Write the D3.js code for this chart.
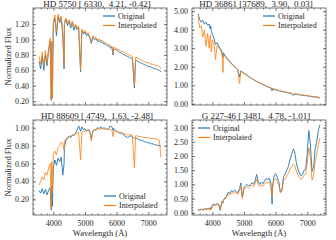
<!DOCTYPE html>
<html>
<head>
<meta charset="utf-8">
<script src="https://cdn.jsdelivr.net/npm/d3@7"></script>
<style>
  body { margin: 0; background: #fff; }
  svg text { font-family: "Liberation Serif", "Times New Roman", serif; fill: #262626; }
</style>
</head>
<body>
<div id="chart"></div>
<script>
// wavelength grid (Angstrom), shared by all four spectra
const wavelength = [3550,3600,3650,3700,3750,3800,3850,3900,3934,3950,3969,
  4000,4050,4100,4150,4200,4250,4300,4340,4350,4400,4450,4500,4550,4600,4650,4700,4750,4800,4861,
  4900,4950,5000,5050,5100,5150,5200,5250,5300,5350,5400,5450,5500,5550,5600,5650,5700,5750,5800,5850,5890,
  5900,5950,6000,6050,6100,6150,6200,6250,6300,6350,6400,6450,6500,6563,
  6600,6650,6700,6750,6800,6850,6900,6950,7000,7050,7100,7150,7200,7250,7300,7350,7400];

// HD 5750
const hd5750Original = [0.72,0.62,0.78,0.60,0.80,0.66,0.85,0.98,0.21,0.95,0.24,
  1.20,1.28,1.05,1.30,1.22,1.28,1.05,0.62,1.20,1.26,1.18,1.24,1.15,1.22,1.12,1.18,1.13,1.16,0.58,
  1.12,1.07,1.10,1.05,1.07,1.02,0.95,1.03,1.00,1.01,0.97,0.99,0.96,0.97,0.94,0.94,0.92,0.92,0.89,0.90,0.80,
  0.88,0.87,0.86,0.85,0.83,0.83,0.81,0.80,0.79,0.78,0.77,0.76,0.75,0.37,
  0.73,0.72,0.71,0.70,0.69,0.68,0.67,0.66,0.65,0.65,0.64,0.63,0.62,0.62,0.61,0.60,0.58];
const hd5750Interp = [0.78,0.68,0.84,0.65,0.86,0.70,0.88,1.02,0.22,0.98,0.25,
  1.24,1.32,1.10,1.33,1.25,1.31,1.08,0.65,1.23,1.28,1.21,1.26,1.18,1.24,1.15,1.20,1.15,1.18,0.60,
  1.14,1.09,1.12,1.07,1.09,1.04,0.97,1.05,1.02,1.03,0.99,1.01,0.98,0.99,0.96,0.96,0.94,0.94,0.91,0.92,0.82,
  0.90,0.89,0.88,0.87,0.86,0.85,0.84,0.83,0.82,0.81,0.80,0.79,0.78,0.40,
  0.77,0.76,0.75,0.74,0.73,0.72,0.71,0.70,0.70,0.69,0.68,0.68,0.67,0.66,0.66,0.65,0.62];

// HD 36861
const hd36861Original = [4.85,4.55,4.40,4.50,4.30,4.40,4.25,4.30,4.05,4.20,3.90,
  3.75,3.55,3.20,3.30,3.12,2.98,2.85,2.50,2.75,2.62,2.50,2.40,2.30,2.20,2.10,2.02,1.94,1.86,1.45,
  1.78,1.72,1.66,1.60,1.54,1.48,1.42,1.36,1.31,1.26,1.21,1.16,1.12,1.08,1.04,1.00,0.96,0.92,0.88,0.85,0.70,
  0.81,0.78,0.76,0.73,0.71,0.69,0.67,0.65,0.63,0.61,0.59,0.57,0.56,0.45,
  0.53,0.52,0.50,0.49,0.48,0.46,0.45,0.44,0.43,0.42,0.40,0.39,0.38,0.37,0.36,0.35,0.30];
const hd36861Interp = [4.72,4.10,4.20,3.60,4.00,3.10,3.80,3.00,3.70,3.40,2.80,
  3.45,3.30,2.40,3.15,3.02,2.90,2.78,1.70,2.68,2.56,2.45,2.35,2.25,2.16,2.07,1.99,1.92,1.85,1.10,
  1.76,1.70,1.64,1.58,1.52,1.46,1.41,1.36,1.31,1.26,1.21,1.17,1.13,1.09,1.05,1.01,0.97,0.93,0.90,0.87,0.82,
  0.84,0.81,0.78,0.76,0.73,0.71,0.69,0.67,0.65,0.63,0.61,0.59,0.58,0.52,
  0.55,0.54,0.52,0.51,0.50,0.48,0.47,0.46,0.45,0.44,0.42,0.41,0.40,0.39,0.38,0.37,0.32];

// HD 88609
const hd88609Original = [0.30,0.27,0.32,0.26,0.31,0.25,0.30,0.33,0.08,0.35,0.12,
  0.55,0.64,0.58,0.66,0.62,0.67,0.47,0.60,0.78,0.86,0.88,0.90,0.89,0.92,0.91,0.94,0.97,1.02,0.96,
  1.01,0.98,0.99,0.96,0.98,0.95,0.88,0.96,0.98,0.97,1.00,0.99,1.01,0.99,1.00,0.99,0.98,0.99,1.02,1.01,0.97,
  0.99,0.98,0.96,0.95,0.94,0.94,0.93,0.91,0.90,0.89,0.90,0.91,0.90,0.88,
  0.89,0.88,0.87,0.86,0.86,0.85,0.84,0.84,0.83,0.83,0.82,0.82,0.81,0.81,0.80,0.80,0.79];
const hd88609Interp = [0.36,0.40,0.45,0.42,0.50,0.47,0.55,0.60,0.10,0.62,0.30,
  0.70,0.74,0.70,0.78,0.80,0.84,0.82,0.75,0.86,0.88,0.89,0.91,0.90,0.92,0.92,0.93,0.94,0.95,0.64,
  0.95,0.96,0.96,0.97,0.97,0.97,0.85,0.97,0.98,0.98,0.99,0.98,0.99,0.99,0.98,0.99,0.98,0.98,0.98,0.97,0.90,
  0.97,0.96,0.96,0.95,0.95,0.94,0.94,0.93,0.93,0.92,0.92,0.92,0.91,0.55,
  0.91,0.91,0.90,0.90,0.90,0.89,0.89,0.89,0.89,0.88,0.88,0.88,0.88,0.87,0.87,0.86,0.67];

// G 227-46
const g22746Original = [0.12,0.10,0.13,0.11,0.14,0.13,0.15,0.16,0.10,0.18,0.14,
  0.27,0.30,0.28,0.32,0.30,0.08,0.40,0.36,0.46,0.52,0.58,0.72,0.68,0.78,0.74,0.80,0.76,0.70,0.85,
  1.05,0.55,0.90,0.96,1.00,0.94,0.98,1.06,1.00,1.12,1.35,1.10,1.00,1.08,1.02,1.12,1.20,1.16,1.22,1.05,0.30,
  0.90,1.30,1.38,1.25,1.10,0.72,0.80,1.28,1.36,1.50,1.62,1.85,2.05,2.25,
  2.15,1.80,1.55,1.40,1.30,1.35,1.50,1.55,2.10,2.90,2.40,1.45,1.60,2.25,2.50,2.90,3.10];
const g22746Interp = [0.10,0.08,0.11,0.09,0.12,0.11,0.13,0.14,0.09,0.16,0.12,
  0.24,0.27,0.25,0.29,0.27,0.10,0.36,0.33,0.42,0.48,0.54,0.66,0.62,0.70,0.68,0.73,0.70,0.64,0.78,
  0.95,0.50,0.82,0.88,0.92,0.86,0.90,0.97,0.92,1.02,1.18,1.00,0.92,0.98,0.94,1.02,1.08,1.05,1.10,0.95,0.55,
  0.85,1.15,1.20,1.10,0.98,0.70,0.76,1.12,1.18,1.30,1.38,1.52,1.62,1.72,
  1.68,1.48,1.35,1.25,1.18,1.22,1.32,1.38,1.75,2.28,1.95,1.15,1.30,1.80,2.05,2.40,2.62];

const titles = ["HD 5750 [ 6330,  4.21, -0.42]", "HD 36861 [37689,  3.90,  0.03]",
                "HD 88609 [ 4749,  1.63, -2.48]", "G 227-46 [ 3481,  4.78, -1.01]"];
const originals = [hd5750Original, hd36861Original, hd88609Original, g22746Original];
const interps = [hd5750Interp, hd36861Interp, hd88609Interp, g22746Interp];
const yDomains = [[0.15, 1.41], [-0.06, 5.17], [0.025, 1.086], [-0.08, 3.27]];
const yTicks = [[0.2, 0.4, 0.6, 0.8, 1.0, 1.2], [0, 1, 2, 3, 4, 5],
                [0.2, 0.4, 0.6, 0.8, 1.0], [0, 0.5, 1, 1.5, 2, 2.5, 3]];
const yMinorStep = [0.05, 0.2, 0.05, 0.1];
const seriesNames = ["Original", "Interpolated"];

const W = 336, H = 240;
const blue = "#1f77b4", orange = "#ff7f0e";

// panel boxes
const boxes = [
  { left: 33, right: 167, top: 8, bottom: 105, legend: [103, 16] },
  { left: 192, right: 326, top: 8, bottom: 105, legend: [263, 16] },
  { left: 33, right: 167, top: 120, bottom: 215, legend: [104, 196] },
  { left: 192, right: 326, top: 120, bottom: 215, legend: [198, 128] }
];

const svg = d3.select("#chart").append("svg")
  .attr("width", W).attr("height", H);

const ext = d3.extent(wavelength);
const pad = (ext[1] - ext[0]) * 0.05;
const xMajor = [4000, 5000, 6000, 7000];
const xMinor = d3.range(3400, 7600, 200);

boxes.forEach((b, i) => {
  const x = d3.scaleLinear().domain([ext[0] - pad, ext[1] + pad]).range([b.left, b.right]);
  const y = d3.scaleLinear().domain(yDomains[i]).range([b.bottom, b.top]);
  const g = svg.append("g");

  g.append("clipPath").attr("id", "clip" + i)
    .append("rect")
    .attr("x", b.left).attr("y", b.top)
    .attr("width", b.right - b.left).attr("height", b.bottom - b.top);

  const line = d3.line()
    .x((d, j) => x(wavelength[j]))
    .y(d => y(d));

  g.append("path")
    .datum(originals[i])
    .attr("clip-path", `url(#clip${i})`)
    .attr("d", line)
    .style("fill", "none").style("stroke", blue).style("stroke-width", 0.9);
  g.append("path")
    .datum(interps[i])
    .attr("clip-path", `url(#clip${i})`)
    .attr("d", line)
    .style("fill", "none").style("stroke", orange).style("stroke-width", 0.9)
    .style("opacity", 0.9);

  // ticks inside on all four sides
  const yMinor = d3.range(yDomains[i][0] - yDomains[i][0] % yMinorStep[i], yDomains[i][1], yMinorStep[i])
    .filter(v => v >= yDomains[i][0] && v <= yDomains[i][1]);
  const tickStyle = sel => sel.call(s => s.select(".domain").remove())
    .call(s => s.selectAll("line").attr("stroke", "#444").attr("stroke-width", 0.7));
  const xMinorIn = xMinor.filter(v => !xMajor.includes(v) && x(v) > b.left && x(v) < b.right);

  const bottomAx = d3.axisBottom(x).tickValues(xMajor).tickSizeInner(-3).tickSizeOuter(0)
    .tickFormat(i >= 2 ? d3.format("d") : "").tickPadding(5);
  g.append("g").attr("transform", `translate(0,${b.bottom})`).call(bottomAx).call(tickStyle)
    .selectAll("text").style("font-size", "8px");
  g.append("g").attr("transform", `translate(0,${b.bottom})`)
    .call(d3.axisBottom(x).tickValues(xMinorIn).tickSizeInner(-1.5).tickSizeOuter(0).tickFormat(""))
    .call(tickStyle);
  g.append("g").attr("transform", `translate(0,${b.top})`)
    .call(d3.axisTop(x).tickValues(xMajor).tickSizeInner(-3).tickSizeOuter(0).tickFormat(""))
    .call(tickStyle);
  g.append("g").attr("transform", `translate(0,${b.top})`)
    .call(d3.axisTop(x).tickValues(xMinorIn).tickSizeInner(-1.5).tickSizeOuter(0).tickFormat(""))
    .call(tickStyle);

  g.append("g").attr("transform", `translate(${b.left},0)`)
    .call(d3.axisLeft(y).tickValues(yTicks[i]).tickSizeInner(-3).tickSizeOuter(0)
      .tickFormat(d3.format(".2f")).tickPadding(4))
    .call(tickStyle)
    .selectAll("text").style("font-size", "8px");
  g.append("g").attr("transform", `translate(${b.left},0)`)
    .call(d3.axisLeft(y).tickValues(yMinor).tickSizeInner(-1.5).tickSizeOuter(0).tickFormat(""))
    .call(tickStyle);
  g.append("g").attr("transform", `translate(${b.right},0)`)
    .call(d3.axisRight(y).tickValues(yTicks[i]).tickSizeInner(-3).tickSizeOuter(0).tickFormat(""))
    .call(tickStyle);
  g.append("g").attr("transform", `translate(${b.right},0)`)
    .call(d3.axisRight(y).tickValues(yMinor).tickSizeInner(-1.5).tickSizeOuter(0).tickFormat(""))
    .call(tickStyle);

  // frame
  g.append("rect")
    .attr("x", b.left).attr("y", b.top)
    .attr("width", b.right - b.left).attr("height", b.bottom - b.top)
    .style("fill", "none").style("stroke", "#555").style("stroke-width", 0.8);

  // title
  g.append("text")
    .attr("x", (b.left + b.right) / 2 - 3).attr("y", b.top - 1.5)
    .attr("text-anchor", "middle")
    .style("font-size", "9px").style("white-space", "pre")
    .text(titles[i]);

  // legend
  const lg = g.append("g").attr("transform", `translate(${b.legend[0]},${b.legend[1]})`);
  [blue, orange].forEach((c, k) => {
    lg.append("line").attr("x1", 0).attr("x2", 12).attr("y1", k * 9.5).attr("y2", k * 9.5)
      .style("stroke", c).style("stroke-width", 1.2);
    lg.append("text").attr("x", 15).attr("y", k * 9.5 + 2.5)
      .style("font-size", "8px").text(seriesNames[k]);
  });

  if (i % 2 === 0) {
    g.append("text")
      .attr("transform", `translate(11,${(b.top + b.bottom) / 2}) rotate(-90)`)
      .attr("text-anchor", "middle")
      .style("font-size", "8.5px")
      .text("Normalized Flux");
  }
  if (i >= 2) {
    g.append("text")
      .attr("x", (b.left + b.right) / 2).attr("y", 236)
      .attr("text-anchor", "middle")
      .style("font-size", "8.5px")
      .text("Wavelength (Å)");
  }
});
</script>
</body>
</html>
